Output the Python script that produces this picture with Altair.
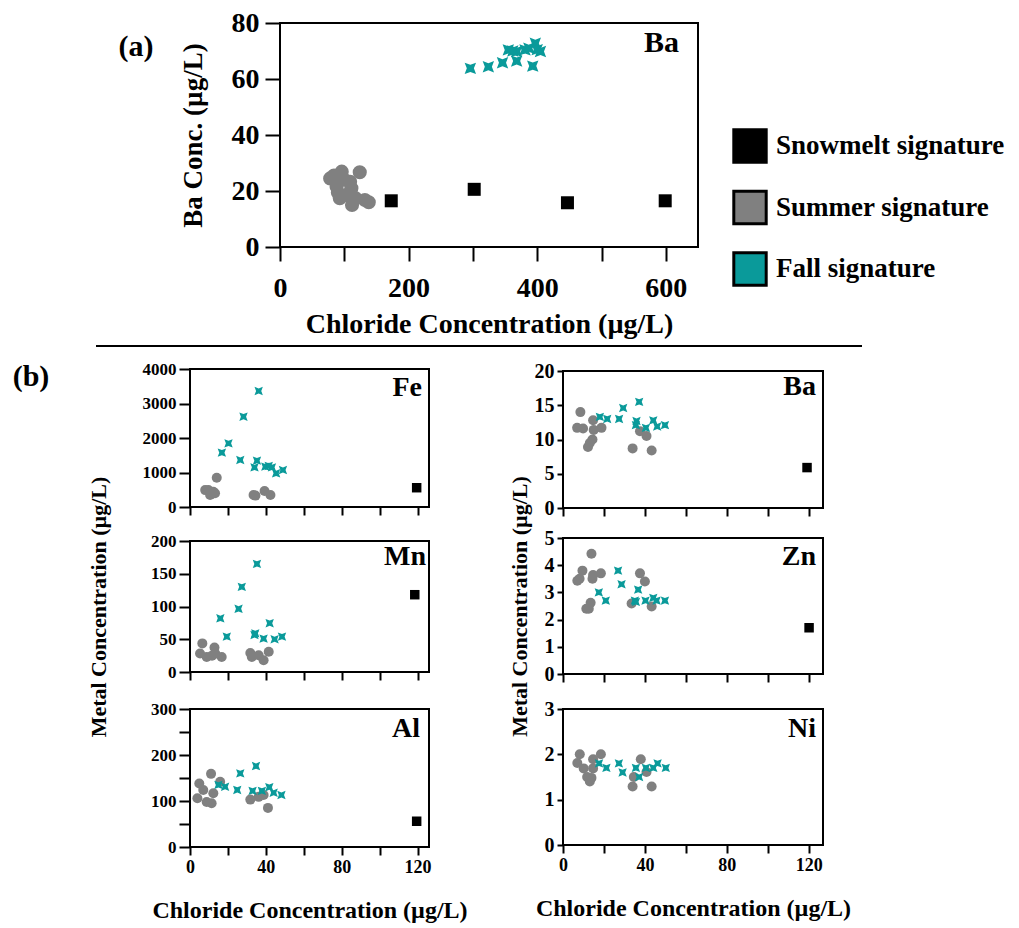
import altair as alt
import pandas as pd

FONT = "Liberation Serif"
SIGS = ["Snowmelt signature", "Summer signature", "Fall signature"]
COLORS = ["#000000", "#808080", "#0a9a9a"]
XPATH = "M-1,-1L0,-0.62L1,-1L0.62,0L1,1L0,0.62L-1,1L-0.62,0Z"
SHAPES = ["square", "circle", XPATH]

# ---------------- panel (a): Ba vs chloride ----------------
a_snow_x = [173, 302, 447, 599]
a_snow_y = [16.5, 20.6, 15.8, 16.5]
a_sum_x = [78, 84, 96, 124, 88, 109, 111, 93, 112, 132, 104, 100, 117, 138, 90]
a_sum_y = [24.5, 25.5, 26.9, 26.7, 21.5, 23.3, 21.0, 17.4, 15.0, 16.8, 18.6, 24.0, 17.5, 16.0, 19.5]
a_fall_x = [296, 324, 346, 368, 393, 355, 368, 381, 397, 405, 387, 362, 400]
a_fall_y = [63.8, 64.4, 65.8, 66.4, 64.6, 70.4, 69.8, 70.4, 72.8, 69.8, 71.0, 70.0, 70.5]

# ---------------- panel (b) ----------------
fe_snow_x, fe_snow_y = [119.5], [559]
fe_sum_x = [14.1, 9.7, 12.3, 10.6, 13.2, 33.5, 39.3, 42.4, 8.0, 11.5, 34.5]
fe_sum_y = [849, 493, 444, 348, 400, 348, 464, 348, 490, 380, 330]
fe_fall_x = [36.2, 28.2, 20.3, 16.8, 26.5, 35.3, 34.0, 39.7, 43.2, 45.4, 49.0, 41.5]
fe_fall_y = [3362, 2617, 1846, 1575, 1362, 1343, 1150, 1169, 1150, 977, 1072, 1190]

mn_snow_x, mn_snow_y = [118.5], [118]
mn_sum_x = [6.5, 5.3, 8.8, 12.9, 13.3, 16.7, 11.6, 31.8, 32.6, 36.2, 38.8, 41.5]
mn_sum_y = [43.7, 28.3, 23, 37.5, 28, 23, 25, 29, 23, 25.7, 18, 30.8]
mn_fall_x = [35.3, 27.3, 25.6, 16.0, 19.4, 34.0, 34.4, 38.8, 42.0, 44.6, 48.5]
mn_fall_y = [165, 130, 96.5, 82, 54, 56.5, 59, 51, 74.5, 50, 54]

al_snow_x, al_snow_y = [119.5], [56]
al_sum_x = [11.1, 4.9, 7.0, 3.9, 8.8, 11.4, 12.3, 15.9, 31.8, 36.2, 38.8, 41.1]
al_sum_y = [159, 138, 124, 106, 98, 95, 117, 142, 103, 109, 113, 85]
al_fall_x = [34.8, 26.5, 15.0, 18.5, 24.9, 33.0, 37.9, 41.8, 44.1, 48.2]
al_fall_y = [176, 160, 135, 131, 124, 122, 122, 130, 118, 113]

ba_snow_x, ba_snow_y = [119.2], [5.9]
ba_sum_x = [8.5, 6.9, 9.8, 14.7, 15.0, 18.8, 14.4, 13.1, 12.2, 34.0, 37.6, 40.8, 43.3]
ba_sum_y = [14.0, 11.7, 11.6, 12.8, 11.4, 11.7, 10.0, 9.5, 8.9, 8.7, 11.2, 10.5, 8.4]
ba_fall_x = [18.0, 21.6, 27.4, 29.4, 37.2, 35.9, 35.6, 40.5, 44.1, 46.0, 49.8]
ba_fall_y = [13.3, 13.0, 13.0, 14.6, 15.5, 12.7, 12.1, 11.7, 12.8, 11.9, 12.1]

zn_snow_x, zn_snow_y = [120.2], [1.7]
zn_sum_x = [13.9, 9.5, 7.0, 8.1, 14.7, 14.4, 18.5, 11.4, 13.5, 37.6, 40.0, 33.5, 43.3, 12.6]
zn_sum_y = [4.42, 3.8, 3.43, 3.5, 3.64, 3.5, 3.7, 2.4, 2.62, 3.7, 3.4, 2.59, 2.48, 2.4]
zn_fall_x = [17.5, 20.9, 26.9, 28.6, 36.7, 35.1, 35.6, 40.3, 44.1, 45.7, 49.8]
zn_fall_y = [3.0, 2.7, 3.8, 3.3, 3.1, 2.7, 2.65, 2.7, 2.8, 2.7, 2.7]

ni_snow_x, ni_snow_y = [], []
ni_sum_x = [8.2, 7.0, 10.1, 14.7, 14.7, 18.5, 11.8, 13.9, 13.1, 34.0, 34.6, 38.0, 40.8, 43.3]
ni_sum_y = [2.0, 1.81, 1.69, 1.89, 1.69, 2.0, 1.5, 1.48, 1.4, 1.29, 1.5, 1.89, 1.61, 1.29]
ni_fall_x = [17.6, 21.2, 27.3, 29.1, 35.6, 37.2, 40.5, 44.1, 46.2, 50.2]
ni_fall_y = [1.8, 1.7, 1.8, 1.6, 1.7, 1.5, 1.7, 1.7, 1.8, 1.7]

W, H = 1019, 928


def axis(orient, offset, values, tick, lpad, lsize, labels=True, label_every=None,
         title=None, tpad=0, tsize=22):
    kw = dict(orient=orient, offset=offset, values=values, tickSize=tick,
              labelPadding=lpad, labelFontSize=lsize, labels=labels, format="d",
              grid=False, domain=False, labelFlush=False, labelOverlap=False)
    if label_every:
        kw["labelExpr"] = f"datum.value % {label_every} === 0 ? datum.label : ''"
    if title:
        kw.update(title=title, titlePadding=tpad, titleFontSize=tsize)
    else:
        kw["title"] = None
    return alt.Axis(**kw)


def panel(series, sizes, xdom, ydom, xr, yr, xaxis, yaxis, label, lab_xy, lab_size):
    xs = alt.Scale(domain=xdom, range=xr, nice=False, zero=False)
    ys = alt.Scale(domain=ydom, range=yr, nice=False, zero=False)
    layers = []
    frame_df = pd.DataFrame({"x": [xdom[0]], "x1": [xdom[1]], "y": [ydom[0]], "y1": [ydom[1]]})
    layers.append(alt.Chart(frame_df).mark_rect(fill=None, stroke="black", strokeWidth=2).encode(
        x=alt.X("x:Q", scale=xs, axis=xaxis), x2="x1",
        y=alt.Y("y:Q", scale=ys, axis=yaxis), y2="y1"))
    for (xv, yv), col, shp, sz in zip(series, COLORS, SHAPES, sizes):
        if not xv:
            continue
        df = pd.DataFrame({"x": xv, "y": yv})
        layers.append(alt.Chart(df).mark_point(filled=True, opacity=1, color=col,
                                               shape=shp, size=sz).encode(
            x=alt.X("x:Q", scale=xs, axis=xaxis),
            y=alt.Y("y:Q", scale=ys, axis=yaxis)))
    layers.append(alt.Chart(pd.DataFrame({"t": [label]})).mark_text(
        align="right", baseline="alphabetic", font=FONT, fontWeight="bold",
        fontSize=lab_size, color="black").encode(
        x=alt.value(lab_xy[0]), y=alt.value(lab_xy[1]), text="t:N"))
    return alt.layer(*layers)


SZ_A = [169, 200, 130]
SZ_B = [90, 100, 70]
LX = [190, 429]
RX = [563, 823]
XD_L = [0, 126]
XD_R = [0, 127]
XT = [0, 20, 40, 60, 80, 100, 120]
MT = "Metal Concentration (\u00b5g/L)"
CT = "Chloride Concentration (\u00b5g/L)"

pa = panel([(a_snow_x, a_snow_y), (a_sum_x, a_sum_y), (a_fall_x, a_fall_y)], SZ_A,
           [0, 650], [0, 80], [280, 698], [247, 23],
           axis("bottom", 247 - H, [0, 100, 200, 300, 400, 500, 600], 14, 13, 28,
                label_every=200, title=CT, tpad=8, tsize=28),
           axis("left", -280, [0, 20, 40, 60, 80], 15, 6, 28,
                title="Ba Conc. (\u00b5g/L)", tpad=24, tsize=27),
           "Ba", (679, 52), 30)

fe = panel([(fe_snow_x, fe_snow_y), (fe_sum_x, fe_sum_y), (fe_fall_x, fe_fall_y)], SZ_B,
           XD_L, [0, 4000], LX, [507, 369],
           axis("bottom", 507 - H, XT, 8, 3, 18, labels=False),
           axis("left", -190, [0, 1000, 2000, 3000, 4000], 11, 3, 17),
           "Fe", (422, 396), 28)
mn = panel([(mn_snow_x, mn_snow_y), (mn_sum_x, mn_sum_y), (mn_fall_x, mn_fall_y)], SZ_B,
           XD_L, [0, 200], LX, [672, 541],
           axis("bottom", 672 - H, XT, 8, 3, 18, labels=False),
           axis("left", -190, [0, 50, 100, 150, 200], 11, 3, 17, title=MT, tpad=40, tsize=22),
           "Mn", (426, 565), 28)
al = panel([(al_snow_x, al_snow_y), (al_sum_x, al_sum_y), (al_fall_x, al_fall_y)], SZ_B,
           XD_L, [0, 300], LX, [847, 709],
           axis("bottom", 847 - H, XT, 8, 3, 18, label_every=40, title=CT, tpad=22, tsize=24),
           axis("left", -190, [0, 50, 100, 150, 200, 250, 300], 11, 3, 17, label_every=100),
           "Al", (420, 737), 28)
ba = panel([(ba_snow_x, ba_snow_y), (ba_sum_x, ba_sum_y), (ba_fall_x, ba_fall_y)], SZ_B,
           XD_R, [0, 20], RX, [508, 371],
           axis("bottom", 508 - H, XT, 8, 3, 18, labels=False),
           axis("left", -563, [0, 5, 10, 15, 20], 6, 3, 20),
           "Ba", (816, 395), 28)
zn = panel([(zn_snow_x, zn_snow_y), (zn_sum_x, zn_sum_y), (zn_fall_x, zn_fall_y)], SZ_B,
           XD_R, [0, 5], RX, [674, 538],
           axis("bottom", 674 - H, XT, 8, 3, 18, labels=False),
           axis("left", -563, [0, 1, 2, 3, 4, 5], 6, 3, 20, title=MT, tpad=13, tsize=22),
           "Zn", (816, 565), 28)
ni = panel([(ni_snow_x, ni_snow_y), (ni_sum_x, ni_sum_y), (ni_fall_x, ni_fall_y)], SZ_B,
           XD_R, [0, 3], RX, [845, 709],
           axis("bottom", 845 - H, XT, 8, 3, 18, label_every=40, title=CT, tpad=22, tsize=24),
           axis("left", -563, [0, 1, 2, 3], 6, 3, 20),
           "Ni", (816, 737), 28)

# legend
leg_df = pd.DataFrame({"sig": SIGS, "k": [0, 1, 2]})
leg_y = alt.Y("k:Q", scale=alt.Scale(domain=[0, 2], range=[146, 269]), axis=None)
leg_sq = alt.Chart(leg_df).mark_square(size=1050, stroke="black", strokeWidth=3, opacity=1).encode(
    x=alt.value(750), y=leg_y,
    color=alt.Color("sig:N", scale=alt.Scale(domain=SIGS, range=COLORS), legend=None))
leg_tx = alt.Chart(leg_df).mark_text(align="left", baseline="middle", font=FONT,
                                     fontWeight="bold", fontSize=27, color="black").encode(
    x=alt.value(776), y=leg_y, text="sig:N")
legend = alt.layer(leg_sq, leg_tx)

tag_a = alt.Chart(pd.DataFrame({"t": ["(a)"]})).mark_text(
    font=FONT, fontWeight="bold", fontSize=30, color="black", baseline="middle").encode(
    x=alt.value(136), y=alt.value(47), text="t:N")
tag_b = alt.Chart(pd.DataFrame({"t": ["(b)"]})).mark_text(
    font=FONT, fontWeight="bold", fontSize=30, color="black", baseline="middle").encode(
    x=alt.value(31), y=alt.value(377), text="t:N")
sep = alt.Chart(pd.DataFrame({"v": [0]})).mark_rule(color="black", strokeWidth=2).encode(
    x=alt.value(96), x2=alt.value(862), y=alt.value(346))

chart = alt.layer(pa, fe, mn, al, ba, zn, ni, legend, tag_a, tag_b, sep).resolve_scale(
    x="independent", y="independent", color="independent"
).properties(
    width=W, height=H, autosize=alt.AutoSizeParams(type="none"), padding=0
).configure_view(strokeWidth=0).configure_axis(
    labelFont=FONT, titleFont=FONT, labelFontWeight="bold", titleFontWeight="bold",
    labelColor="black", titleColor="black", tickColor="black", tickWidth=2
)

chart.save("out.html", embed_options={"renderer": "svg", "actions": False})
